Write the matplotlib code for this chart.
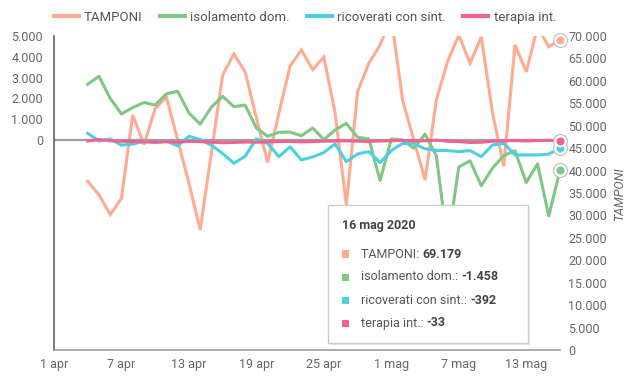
import numpy as np
import pandas as pd
import matplotlib
matplotlib.use('Agg')
import matplotlib.pyplot as plt
from matplotlib.patches import FancyBboxPatch
from matplotlib.text import Annotation

plt.rcParams['font.family'] = ['Roboto', 'DejaVu Sans']

# daily changes, 4 apr -> 16 mag 2020
dates = pd.date_range('2020-04-04', '2020-05-16', freq='D')
tamponi = [37600, 34600, 30200, 33800, 52400, 45800, 53800, 56400, 46800, 37200,
           26800, 44000, 61300, 66000, 62000, 51700, 41800, 52800, 63300, 66900,
           62500, 65300, 52800, 32300, 57600, 63900, 68000, 74000, 55700, 46800,
           37900, 55700, 64300, 70200, 63900, 69800, 52800, 41000, 68000, 62000,
           72000, 67600, 69179]
isolamento = [2680, 3060, 2000, 1250, 1560, 1800, 1680, 2220, 2340, 1300,
              760, 1580, 2100, 1600, 1680, 570, 180, 370, 380, 200,
              580, 20, 480, 800, 130, 50, -1950, 50, 0, -400,
              280, -750, -5000, -1300, -1000, -2200, -1350, -750, -520, -2050,
              -1150, -3650, -1458]
ricoverati = [320, -50, 50, -250, -200, -60, -130, -50, -280, 180,
              20, -250, -650, -1120, -780, 60, -170, -800, -330, -960,
              -820, -600, -190, -1040, -670, -560, -1090, -510, -160, -190,
              -420, -500, -510, -560, -510, -800, -240, -160, -720, -720,
              -720, -680, -392]
terapia = [-50, 20, -40, -60, -80, -90, -100, -90, -110, -70,
           -80, -110, -130, -120, -100, -110, -90, -80, -70, -90,
           -80, -60, -50, -40, -60, -70, -50, -40, -20, -50,
           -40, -10, -60, -80, -120, -110, -60, -40, -30, -50,
           -30, -20, -33]

series_names = ['TAMPONI', 'isolamento dom.', 'ricoverati con sint.', 'terapia int.']
series_colors = ['#ffab91', '#81c784', '#4dd0e1', '#f06292']
tip_values = ['69.179', '-1.458', '-392', '-33']

xtick_dates = pd.date_range('2020-04-01', '2020-05-13', freq='6D')
xtick_labels = ['1 apr', '7 apr', '13 apr', '19 apr', '25 apr', '1 mag', '7 mag', '13 mag']
left_ticks = [0, 1000, 2000, 3000, 4000, 5000]
right_ticks = list(range(0, 70001, 5000))


def itfmt(v):
    return f'{v:,}'.replace(',', '.')


fig = plt.figure(figsize=(6.44, 3.80), dpi=100)
ax = fig.add_axes([54/644, 30/380, 506/644, 314/380])
ax2 = ax.twinx()
ax.set_zorder(ax2.get_zorder() + 1)
ax.patch.set_visible(False)

lw = 2.2
ax2.plot(dates, tamponi, color=series_colors[0], lw=lw, solid_joinstyle='miter')
ax.axhline(0, color='#9e9e9e', lw=1.6, zorder=1)
ax.plot(dates, isolamento, color=series_colors[1], lw=lw, zorder=2)
ax.plot(dates, ricoverati, color=series_colors[2], lw=lw, zorder=3)
ax.plot(dates, terapia, color=series_colors[3], lw=lw, zorder=4)

# end markers
ends = [(ax2, tamponi), (ax, isolamento), (ax, ricoverati), (ax, terapia)]
for (a, s), c in zip(ends, series_colors):
    a.plot(dates[-1], s[-1], 'o', ms=10, mfc='white', mec='#bdbdbd', mew=0.8, zorder=6, clip_on=False)
    a.plot(dates[-1], s[-1], 'o', ms=7, mfc=c, mec='white', mew=1.2, zorder=7, clip_on=False)

ax.set_xlim(pd.Timestamp('2020-04-01'), pd.Timestamp('2020-05-16'))
ax.set_ylim(-10100, 5000)
ax2.set_ylim(0, 70000)

ax.set_xticks(xtick_dates)
ax.set_xticklabels(xtick_labels)
ax.set_yticks(left_ticks)
ax.set_yticklabels([itfmt(v) for v in left_ticks])
ax2.set_yticks(right_ticks)
ax2.set_yticklabels([itfmt(v) for v in right_ticks])

ax.tick_params(axis='x', length=0, pad=6, labelsize=9, labelcolor='#666666')
ax.tick_params(axis='y', length=0, pad=8, labelsize=9, labelcolor='#666666')
ax2.tick_params(axis='y', length=0, pad=6, labelsize=9, labelcolor='#666666')
ax2.set_ylabel('TAMPONI', fontsize=9, color='#666666', style='italic', labelpad=4)

for a in (ax, ax2):
    for sp in ('top', 'right', 'left', 'bottom'):
        a.spines[sp].set_visible(False)
ax.spines['left'].set_visible(True)
ax.spines['left'].set_color('#666666')
ax.spines['bottom'].set_visible(True)
ax.spines['bottom'].set_color('#9e9e9e')
ax.spines['left'].set_linewidth(1.2)
ax.spines['bottom'].set_linewidth(1.2)

# legend
handles = [plt.Line2D([], [], color=c, lw=3) for c in series_colors]
fig.legend(handles, series_names, loc='center', bbox_to_anchor=(305/644, 0.955), ncol=4,
           frameon=False, fontsize=9.5, handlelength=1.9, columnspacing=1.3,
           handletextpad=0.4, labelcolor='#555555')

# tooltip
W, H = 644, 380
box = FancyBboxPatch((328/W, 37/H), 200/W, 138/H, boxstyle='square,pad=0',
                     transform=fig.transFigure, facecolor='white', edgecolor='#cccccc',
                     lw=1.0, zorder=10)
shadow = FancyBboxPatch((330/W, 35/H), 200/W, 138/H, boxstyle='square,pad=0',
                        transform=fig.transFigure, facecolor='#000000', alpha=0.08,
                        edgecolor='none', zorder=9)
fig.add_artist(shadow)
fig.add_artist(box)
fig.text(342/W, 1 - 226/H, '16 mag 2020', fontsize=9, fontweight='bold', color='#444444',
         va='center', ha='left', zorder=11)
for i, (name, c, v) in enumerate(zip(series_names, series_colors, tip_values)):
    yc = 1 - (254 + 23*i)/H
    fig.patches.append(FancyBboxPatch((342/W, yc - 3.5/H), 7/W, 7/H, boxstyle='square,pad=0',
                                      transform=fig.transFigure, facecolor=c,
                                      edgecolor='none', zorder=11))
    t1 = fig.text(361/W, yc, name + ': ', fontsize=9, color='#555555',
                  va='center', ha='left', zorder=11)
    fig.add_artist(Annotation(v, xy=(1, 0.5), xycoords=t1, va='center', ha='left',
                              fontsize=9, fontweight='bold', color='#444444', zorder=11))

fig.savefig('out.png', dpi=100)
